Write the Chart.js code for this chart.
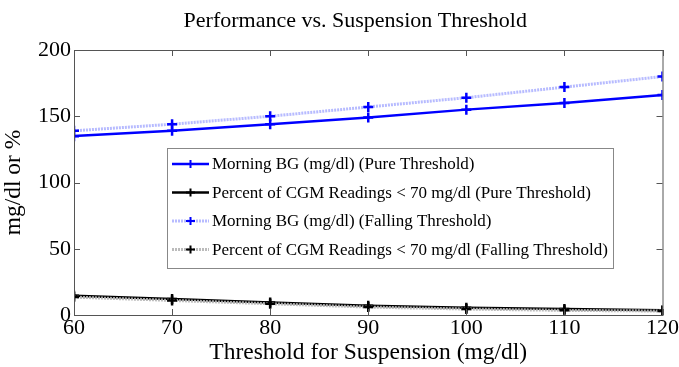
<!DOCTYPE html>
<html>
<head>
<meta charset="utf-8">
<script src="https://cdn.jsdelivr.net/npm/chart.js@4/dist/chart.umd.min.js"></script>
<style>
  html, body { margin: 0; padding: 0; background: #fff; }
  #wrap { width: 679px; height: 367px; }
</style>
</head>
<body>
<div id="wrap"><canvas id="chart"></canvas></div>
<script>
// thresholds on the x axis
const thresholds = [60, 70, 80, 90, 100, 110, 120];

// series
const bgPure = [135, 139, 144, 149, 155, 160, 166];
const lowPure = [14.5, 12, 9.5, 7, 5.5, 4.5, 3.5];
const bgFalling = [139, 144, 150, 157, 164, 172, 180];
const lowFalling = [13.5, 11, 8.5, 6, 4.5, 3.5, 3];

const seriesNames = [
  'Morning BG (mg/dl) (Pure Threshold)',
  'Percent of CGM Readings < 70 mg/dl (Pure Threshold)',
  'Morning BG (mg/dl) (Falling Threshold)',
  'Percent of CGM Readings < 70 mg/dl (Falling Threshold)'
];

const chartTitle = 'Performance vs. Suspension Threshold';

const serif = "'Liberation Serif', 'DejaVu Serif', serif";

function toPoints(vals) {
  return vals.map((v, i) => ({ x: thresholds[i], y: v }));
}

function makeSet(label, vals, lineColor, markColor, dashed) {
  return {
    label: label,
    data: toPoints(vals),
    borderColor: lineColor,
    borderWidth: dashed ? 3 : 2.5,
    borderDash: dashed ? [2, 1] : [],
    pointStyle: 'cross',
    pointRadius: 5,
    pointBorderWidth: 2.5,
    pointBorderColor: markColor,
    pointBackgroundColor: markColor,
    fill: false,
    tension: 0
  };
}

// falling-threshold sets first so the pure lines sit on top
const datasets = [
  makeSet(seriesNames[2], bgFalling, 'rgba(175,180,255,0.9)', '#0000ff', true),
  makeSet(seriesNames[3], lowFalling, 'rgba(180,180,180,0.9)', '#000000', true),
  makeSet(seriesNames[0], bgPure, '#0000ff', '#0000ff', false),
  makeSet(seriesNames[1], lowPure, '#000000', '#000000', false)
];

// MATLAB style box with inward ticks, title over the plot, legend inside
const boxPlugin = {
  id: 'boxTicks',
  afterDatasetsDraw(chart) {
    const { ctx, chartArea: a, scales } = chart;
    ctx.save();
    ctx.strokeStyle = '#555';
    ctx.lineWidth = 1;
    ctx.strokeRect(a.left + 0.5, a.top + 0.5, a.right - a.left, a.bottom - a.top);
    ctx.beginPath();
    scales.x.ticks.forEach(t => {
      const px = Math.round(scales.x.getPixelForValue(t.value)) + 0.5;
      ctx.moveTo(px, a.bottom); ctx.lineTo(px, a.bottom - 6);
      ctx.moveTo(px, a.top); ctx.lineTo(px, a.top + 6);
    });
    scales.y.ticks.forEach(t => {
      const py = Math.round(scales.y.getPixelForValue(t.value)) + 0.5;
      ctx.moveTo(a.left, py); ctx.lineTo(a.left + 6, py);
      ctx.moveTo(a.right, py); ctx.lineTo(a.right - 6, py);
    });
    ctx.stroke();
    ctx.restore();
  },
  afterDraw(chart) {
    const { ctx, chartArea: a } = chart;
    ctx.save();
    // title centred over the axes
    ctx.fillStyle = '#000';
    ctx.font = '22px ' + serif;
    ctx.textAlign = 'center';
    ctx.textBaseline = 'middle';
    ctx.fillText(chartTitle, (a.left + a.right) / 2 - 13, 21);

    // legend box
    const order = [2, 3, 0, 1];
    const x0 = 167, y0 = 148, w = 446, h = 120, rowH = 28.5;
    ctx.textAlign = 'left';
    ctx.fillStyle = '#fff';
    ctx.fillRect(x0, y0, w, h);
    ctx.strokeStyle = '#888';
    ctx.lineWidth = 1;
    ctx.strokeRect(x0 + 0.5, y0 + 0.5, w, h);
    ctx.font = '17px ' + serif;
    order.forEach((di, row) => {
      const ds = chart.data.datasets[di];
      const cy = y0 + 16 + row * rowH;
      ctx.beginPath();
      ctx.strokeStyle = ds.borderColor;
      ctx.lineWidth = ds.borderWidth;
      ctx.setLineDash(ds.borderDash);
      ctx.moveTo(x0 + 5, cy); ctx.lineTo(x0 + 42, cy);
      ctx.stroke();
      ctx.setLineDash([]);
      ctx.beginPath();
      ctx.strokeStyle = ds.pointBorderColor;
      ctx.lineWidth = 2;
      ctx.moveTo(x0 + 19, cy); ctx.lineTo(x0 + 28, cy);
      ctx.moveTo(x0 + 23.5, cy - 4); ctx.lineTo(x0 + 23.5, cy + 4);
      ctx.stroke();
      ctx.fillStyle = '#000';
      ctx.fillText(ds.label, x0 + 45, cy + 1);
    });
    ctx.restore();
  }
};

new Chart(document.getElementById('chart'), {
  type: 'line',
  data: { datasets: datasets },
  plugins: [boxPlugin],
  options: {
    responsive: true,
    maintainAspectRatio: false,
    animation: false,
    layout: { padding: { left: 0, right: 12, top: 50, bottom: 0 } },
    scales: {
      x: {
        type: 'linear',
        min: 60, max: 120,
        ticks: { stepSize: 10, color: '#000', font: { family: serif, size: 22 }, padding: 0, maxRotation: 0 },
        grid: { drawOnChartArea: false, drawTicks: false },
        border: { display: false },
        title: { display: true, text: 'Threshold for Suspension (mg/dl)', color: '#000', font: { family: serif, size: 23.5 }, padding: { top: -6, bottom: 0 } },
        afterFit(scale) { scale.height = 52; }
      },
      y: {
        min: 0, max: 200,
        ticks: { stepSize: 50, color: '#000', font: { family: serif, size: 22 }, padding: 3 },
        grid: { drawOnChartArea: false, drawTicks: false },
        border: { display: false },
        title: { display: true, text: 'mg/dl or %', color: '#000', font: { family: serif, size: 23.5 }, padding: { top: 0, bottom: 4 } },
        afterFit(scale) { scale.width = 74; }
      }
    },
    plugins: {
      legend: { display: false },
      tooltip: { enabled: false },
      title: { display: false }
    }
  }
});
</script>
</body>
</html>
